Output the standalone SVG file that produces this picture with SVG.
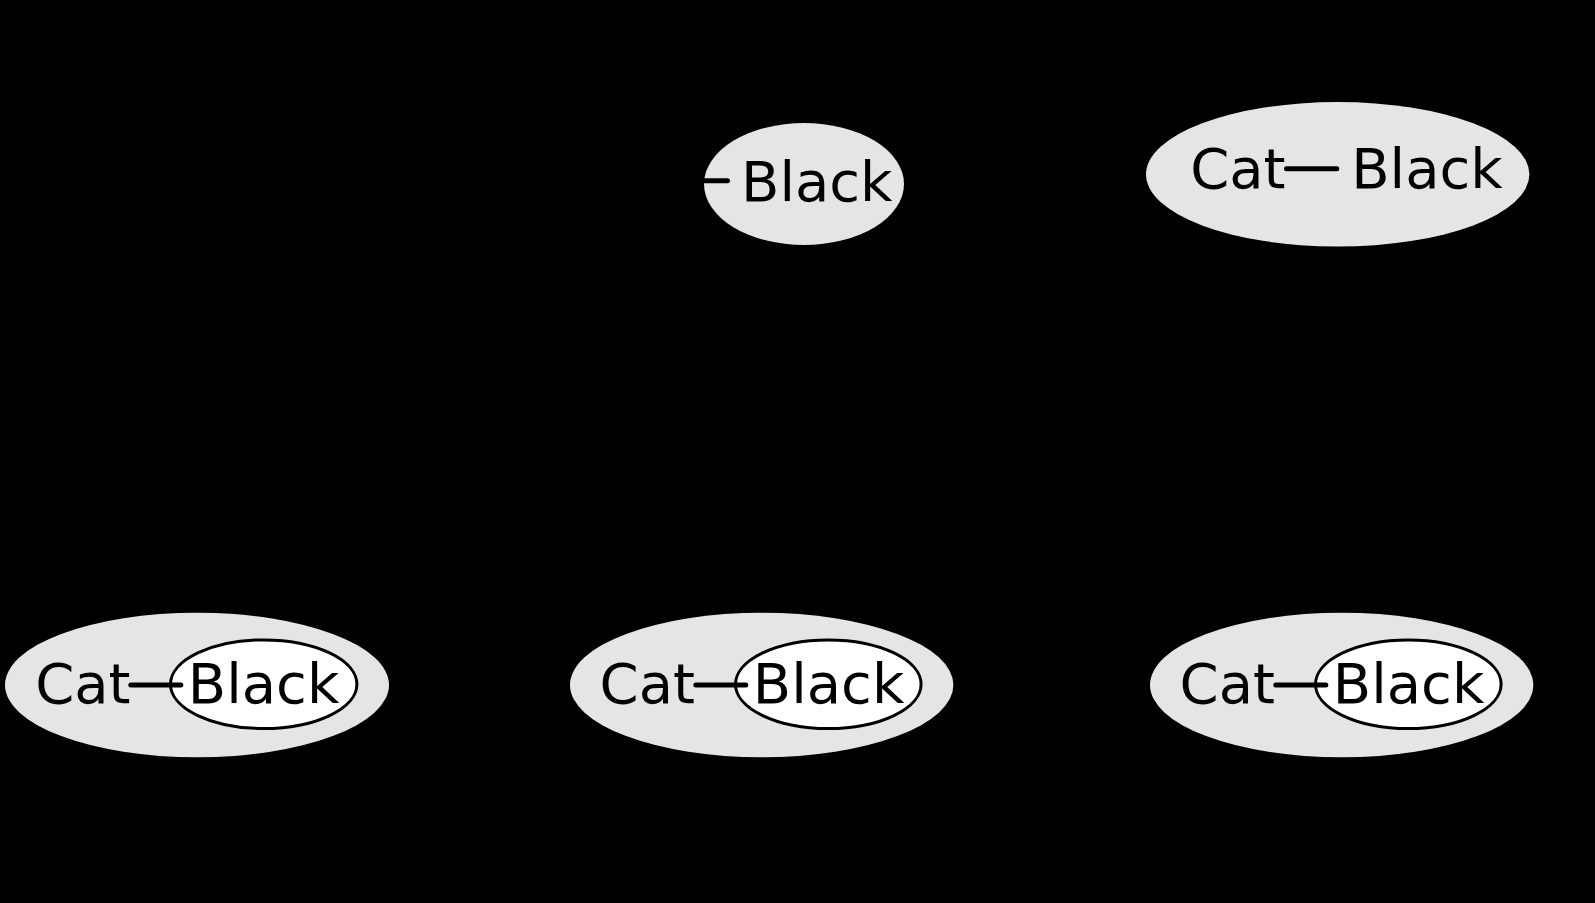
<svg xmlns="http://www.w3.org/2000/svg" width="1595" height="903" viewBox="0 0 1595 903">
<style>
.bg{fill:#000}
.outer{fill:#e5e5e5;stroke:none}
.inner{fill:#fff;stroke:#000;stroke-width:3}
.lbl{font-family:"DejaVu Sans",sans-serif;font-size:56px;fill:#000}
.link{stroke:#000;stroke-width:5;stroke-linecap:round;fill:none}
</style>
<rect class="bg" x="0" y="0" width="1595" height="903"/>
<g id="node-black-top">
<ellipse class="outer" cx="804" cy="184" rx="100" ry="61"/>
<text class="lbl" x="741" y="200.7">Black</text>
</g>
<g id="node-catblack-top">
<ellipse class="outer" cx="1337.7" cy="174.3" rx="191.7" ry="72.3"/>
<text class="lbl" x="1190.2" y="188.3">Cat</text>
<text class="lbl" x="1351.2" y="188.3">Black</text>
</g>
<g id="node-bottom-left">
<ellipse class="outer" cx="197" cy="685" rx="192" ry="72.3"/>
<ellipse class="inner" cx="263.7" cy="684.2" rx="93.2" ry="44.3"/>
<text class="lbl" x="35.2" y="703.3">Cat</text>
<text class="lbl" x="187.8" y="703.3">Black</text>
</g>
<g id="node-bottom-middle">
<ellipse class="outer" cx="761.7" cy="685" rx="191.7" ry="72.3"/>
<ellipse class="inner" cx="828.3" cy="684.2" rx="92.8" ry="44.3"/>
<text class="lbl" x="599.6" y="703.3">Cat</text>
<text class="lbl" x="752.8" y="703.3">Black</text>
</g>
<g id="node-bottom-right">
<ellipse class="outer" cx="1341.7" cy="685" rx="191.7" ry="72.3"/>
<ellipse class="inner" cx="1408.3" cy="684.2" rx="92.8" ry="44.3"/>
<text class="lbl" x="1179.6" y="703.3">Cat</text>
<text class="lbl" x="1332.8" y="703.3">Black</text>
</g>
<g id="connectors">
<line class="link" x1="700" y1="180.7" x2="727.5" y2="180.7"/>
<line class="link" x1="1286.5" y1="168.7" x2="1336.8" y2="168.7"/>
<line class="link" x1="130.8" y1="685" x2="180.8" y2="685"/>
<line class="link" x1="695.8" y1="685" x2="745.8" y2="685"/>
<line class="link" x1="1275.8" y1="685" x2="1325.8" y2="685"/>
</g>
</svg>
